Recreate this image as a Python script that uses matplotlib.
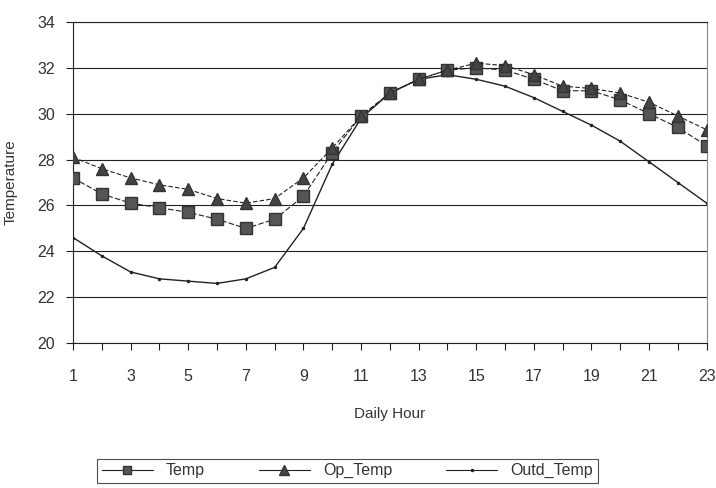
import matplotlib.pyplot as plt
from matplotlib.lines import Line2D

plt.rcParams['font.family'] = ['Liberation Sans', 'DejaVu Sans']

hours = list(range(1, 24))
temp = [27.2, 26.5, 26.1, 25.9, 25.7, 25.4, 25.0, 25.4, 26.4, 28.3, 29.9, 30.9,
        31.5, 31.9, 32.0, 31.9, 31.5, 31.0, 31.0, 30.6, 30.0, 29.4, 28.6]
op_temp = [28.1, 27.6, 27.2, 26.9, 26.7, 26.3, 26.1, 26.3, 27.2, 28.5, 29.9, 30.9,
           31.5, 31.9, 32.2, 32.1, 31.7, 31.2, 31.1, 30.9, 30.5, 29.9, 29.3]
outd_temp = [24.6, 23.8, 23.1, 22.8, 22.7, 22.6, 22.8, 23.3, 25.0, 27.8, 29.8, 30.9,
             31.5, 31.7, 31.5, 31.2, 30.7, 30.1, 29.5, 28.8, 27.9, 27.0, 26.1]

fig = plt.figure(figsize=(7.16, 4.88), dpi=100)
ax = fig.add_axes([0.102, 0.297, 0.885, 0.658])

ax.plot(hours, temp, color='#222222', lw=0.8, ls=(0, (5, 2)), marker='s', ms=8,
        mfc='#555555', mec='#333333', zorder=3)
ax.plot(hours, op_temp, color='#222222', lw=0.8, ls=(0, (4, 2)), marker='^', ms=9,
        mfc='#444444', mec='#333333', zorder=4)
ax.plot(hours, outd_temp, color='#222222', lw=1.0, marker='.', ms=3, zorder=2)

ax.set_xlim(1, 23)
ax.set_ylim(20, 34)
ax.set_xticks(hours)
ax.set_xticklabels([str(h) if h % 2 == 1 else '' for h in hours])
ax.set_yticks(range(20, 35, 2))
ax.yaxis.grid(True, color='#222222', lw=0.8)
ax.set_axisbelow(True)

ax.spines['top'].set_color('#222222')
ax.spines['top'].set_linewidth(0.8)
ax.spines['right'].set_color('#888888')
ax.spines['right'].set_linewidth(0.8)
ax.spines['left'].set_color('#222222')
ax.spines['bottom'].set_color('#222222')

ax.tick_params(axis='both', colors='#222222', labelcolor='#333333', labelsize=11.5,
               length=5, width=0.8)
ax.tick_params(axis='x', pad=14)
ax.tick_params(axis='y', pad=8)

ax.set_xlabel('Daily Hour', fontsize=11, color='#333333', labelpad=16)
ax.set_ylabel('Temperature', fontsize=11, color='#333333', labelpad=14)

# legend keys drawn with solid lines
handles = [
    Line2D([], [], color='#222222', lw=0.8, marker='s', ms=6, mfc='#555555', mec='#333333'),
    Line2D([], [], color='#222222', lw=0.8, marker='^', ms=7, mfc='#444444', mec='#333333'),
    Line2D([], [], color='#222222', lw=0.8, marker='.', ms=3),
]
leg = fig.legend(handles, ['Temp', 'Op_Temp', 'Outd_Temp'], loc='center',
                 bbox_to_anchor=(0.485, 0.035), ncol=3, fontsize=11.5, frameon=True,
                 fancybox=False, handlelength=3.2, columnspacing=3.4, borderpad=0.3)
leg.get_frame().set_edgecolor('#222222')
leg.get_frame().set_linewidth(0.8)
for t in leg.get_texts():
    t.set_color('#333333')

fig.savefig('out.png', dpi=100)
